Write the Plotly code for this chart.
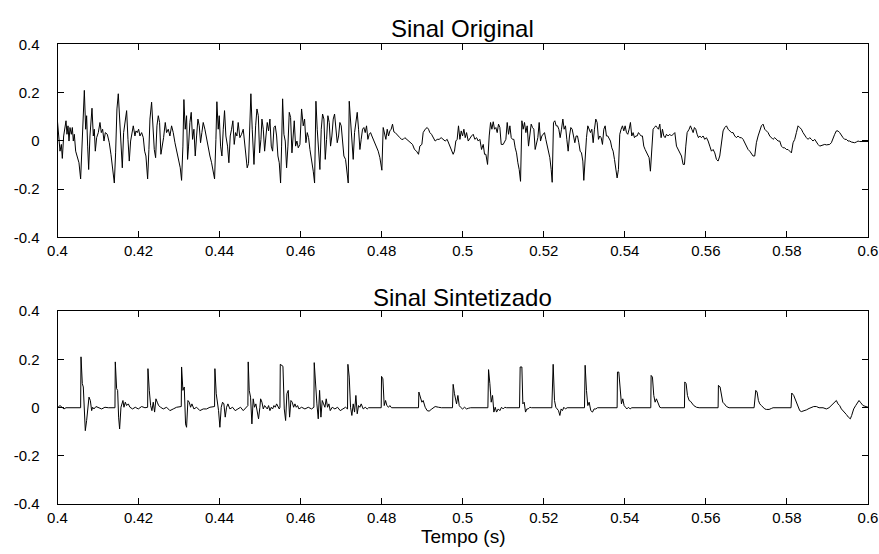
import plotly.graph_objects as go

# ---- data: Sinal Original (time in s, amplitude) ----
t_orig = [0.40000,0.40029,0.40062,0.40095,0.40119,0.40152,0.40185,0.40210,0.40234,0.40259,0.40284,0.40308,0.40341,0.40366,0.40390,0.40415,0.40448,0.40489,0.40530,0.40571,0.40604,0.40629,0.40662,0.40695,0.40719,0.40744,0.40769,0.40801,0.40834,0.40851,0.40884,0.40908,0.40933,0.40966,0.41007,0.41048,0.41081,0.41114,0.41147,0.41180,0.41229,0.41278,0.41319,0.41360,0.41402,0.41434,0.41467,0.41500,0.41533,0.41566,0.41599,0.41632,0.41673,0.41706,0.41739,0.41771,0.41804,0.41837,0.41870,0.41911,0.41936,0.41969,0.42002,0.42034,0.42076,0.42117,0.42150,0.42182,0.42224,0.42256,0.42281,0.42322,0.42355,0.42388,0.42421,0.42454,0.42487,0.42519,0.42552,0.42585,0.42618,0.42659,0.42692,0.42733,0.42774,0.42815,0.42856,0.42898,0.42939,0.42988,0.43029,0.43062,0.43095,0.43119,0.43152,0.43185,0.43210,0.43234,0.43267,0.43300,0.43333,0.43366,0.43399,0.43432,0.43465,0.43498,0.43530,0.43563,0.43596,0.43637,0.43678,0.43720,0.43761,0.43802,0.43843,0.43876,0.43909,0.43933,0.43966,0.43991,0.44024,0.44057,0.44090,0.44122,0.44155,0.44196,0.44229,0.44262,0.44295,0.44328,0.44361,0.44394,0.44427,0.44459,0.44500,0.44542,0.44583,0.44616,0.44648,0.44681,0.44714,0.44747,0.44772,0.44805,0.44848,0.44889,0.44922,0.44955,0.44987,0.45020,0.45045,0.45078,0.45111,0.45144,0.45176,0.45209,0.45242,0.45275,0.45308,0.45341,0.45374,0.45407,0.45439,0.45472,0.45505,0.45530,0.45555,0.45587,0.45620,0.45653,0.45686,0.45719,0.45752,0.45785,0.45818,0.45842,0.45875,0.45908,0.45941,0.45982,0.46023,0.46064,0.46097,0.46130,0.46163,0.46196,0.46229,0.46270,0.46311,0.46344,0.46377,0.46409,0.46442,0.46475,0.46508,0.46541,0.46574,0.46607,0.46640,0.46672,0.46705,0.46738,0.46771,0.46804,0.46837,0.46870,0.46903,0.46936,0.46968,0.47001,0.47034,0.47067,0.47108,0.47141,0.47174,0.47199,0.47231,0.47264,0.47297,0.47330,0.47363,0.47396,0.47429,0.47462,0.47494,0.47527,0.47560,0.47593,0.47626,0.47659,0.47692,0.47725,0.47758,0.47807,0.47856,0.47914,0.47955,0.48004,0.48037,0.48070,0.48103,0.48136,0.48169,0.48201,0.48234,0.48267,0.48300,0.48333,0.48366,0.48407,0.48448,0.48489,0.48530,0.48571,0.48612,0.48662,0.48711,0.48760,0.48810,0.48859,0.48908,0.48941,0.48991,0.49023,0.49073,0.49122,0.49155,0.49188,0.49229,0.49270,0.49319,0.49369,0.49418,0.49467,0.49517,0.49566,0.49615,0.49665,0.49714,0.49763,0.49796,0.49829,0.49862,0.49895,0.49930,0.49962,0.49995,0.50028,0.50061,0.50094,0.50135,0.50176,0.50217,0.50258,0.50299,0.50341,0.50382,0.50423,0.50464,0.50505,0.50538,0.50571,0.50612,0.50653,0.50686,0.50719,0.50752,0.50784,0.50817,0.50850,0.50883,0.50916,0.50949,0.50998,0.51031,0.51064,0.51097,0.51130,0.51163,0.51196,0.51228,0.51261,0.51294,0.51327,0.51360,0.51393,0.51426,0.51459,0.51491,0.51524,0.51557,0.51590,0.51623,0.51656,0.51689,0.51722,0.51754,0.51787,0.51820,0.51853,0.51886,0.51919,0.51952,0.51985,0.52017,0.52050,0.52083,0.52116,0.52149,0.52182,0.52207,0.52239,0.52272,0.52305,0.52338,0.52371,0.52404,0.52437,0.52470,0.52502,0.52535,0.52568,0.52601,0.52634,0.52667,0.52700,0.52733,0.52766,0.52798,0.52831,0.52864,0.52897,0.52930,0.52963,0.52987,0.53020,0.53053,0.53086,0.53119,0.53152,0.53185,0.53218,0.53250,0.53283,0.53316,0.53349,0.53382,0.53415,0.53448,0.53481,0.53514,0.53546,0.53579,0.53612,0.53645,0.53678,0.53711,0.53744,0.53777,0.53809,0.53842,0.53875,0.53908,0.53941,0.53974,0.54007,0.54040,0.54072,0.54105,0.54138,0.54171,0.54204,0.54237,0.54270,0.54303,0.54336,0.54368,0.54401,0.54434,0.54467,0.54500,0.54533,0.54566,0.54599,0.54631,0.54664,0.54697,0.54730,0.54763,0.54796,0.54829,0.54863,0.54895,0.54928,0.54961,0.54994,0.55027,0.55068,0.55109,0.55150,0.55191,0.55233,0.55274,0.55315,0.55356,0.55397,0.55438,0.55471,0.55504,0.55537,0.55586,0.55619,0.55652,0.55685,0.55717,0.55750,0.55783,0.55816,0.55849,0.55890,0.55931,0.55972,0.56013,0.56055,0.56096,0.56137,0.56178,0.56219,0.56260,0.56301,0.56342,0.56383,0.56424,0.56466,0.56507,0.56548,0.56589,0.56630,0.56671,0.56712,0.56753,0.56794,0.56835,0.56877,0.56918,0.56959,0.57000,0.57041,0.57082,0.57123,0.57164,0.57205,0.57246,0.57288,0.57329,0.57370,0.57411,0.57452,0.57493,0.57534,0.57575,0.57616,0.57657,0.57699,0.57740,0.57781,0.57822,0.57863,0.57904,0.57945,0.57986,0.58027,0.58068,0.58110,0.58151,0.58192,0.58233,0.58274,0.58315,0.58356,0.58397,0.58438,0.58479,0.58521,0.58562,0.58603,0.58644,0.58685,0.58726,0.58767,0.58808,0.58849,0.58890,0.58932,0.58973,0.59014,0.59055,0.59096,0.59137,0.59178,0.59219,0.59260,0.59301,0.59343,0.59384,0.59425,0.59466,0.59507,0.59548,0.59589,0.59630,0.59671,0.59712,0.59754,0.59795,0.59877,0.60000]
v_orig = [0.079,0.034,-0.043,-0.015,-0.073,0.020,0.048,0.083,0.027,0.062,-0.001,0.055,0.027,0.055,-0.001,0.027,-0.043,-0.063,-0.091,-0.158,-0.022,0.104,0.209,0.048,0.104,-0.022,-0.119,0.020,0.090,0.135,0.020,0.048,-0.043,0.013,0.034,0.076,0.034,0.048,-0.001,0.034,0.027,-0.008,-0.056,-0.112,-0.175,-0.050,0.132,0.195,0.076,-0.043,-0.112,0.034,0.090,0.125,0.006,-0.084,-0.001,0.034,0.062,0.020,0.041,0.034,0.048,0.020,0.034,0.013,-0.043,-0.063,-0.158,-0.036,0.090,0.160,0.062,-0.036,-0.070,0.062,0.104,0.076,-0.056,-0.022,0.013,0.076,0.034,0.048,0.020,0.062,0.034,-0.008,-0.043,-0.084,-0.112,-0.164,-0.022,0.171,0.048,0.104,-0.077,-0.022,0.076,0.118,0.006,0.048,-0.063,0.020,0.090,0.062,-0.008,0.034,0.076,0.048,0.006,-0.022,-0.063,-0.091,-0.126,-0.158,0.006,0.162,0.048,0.104,-0.022,-0.063,0.048,0.125,0.020,-0.022,-0.091,0.020,0.048,0.083,-0.015,0.034,0.020,0.076,0.013,0.027,0.048,-0.008,-0.063,-0.112,-0.094,0.048,0.195,0.048,-0.098,0.062,0.132,0.104,-0.050,0.006,0.090,0.048,-0.043,0.020,0.076,0.041,0.090,-0.022,-0.043,0.055,0.062,0.020,-0.063,-0.091,-0.175,-0.022,0.174,0.027,-0.001,-0.112,-0.022,0.118,0.097,-0.050,0.027,0.083,-0.022,-0.001,-0.029,-0.015,0.132,0.062,0.090,-0.008,0.034,0.013,-0.036,-0.077,-0.126,-0.175,0.164,0.048,-0.036,-0.119,0.048,0.111,0.090,-0.077,0.006,0.104,0.076,-0.022,0.020,0.090,0.111,0.048,-0.008,0.020,0.076,0.062,-0.022,-0.063,-0.077,-0.126,-0.175,0.164,0.076,-0.022,-0.077,0.034,0.076,0.118,0.048,-0.036,0.006,0.048,0.055,0.034,0.062,0.006,0.027,0.034,0.020,-0.001,-0.022,-0.043,-0.070,-0.122,0.055,0.034,0.006,0.048,0.020,0.041,0.048,0.069,0.037,0.034,0.027,0.020,0.013,0.006,0.006,0.013,0.006,-0.001,-0.008,-0.015,-0.036,-0.043,-0.056,-0.022,-0.015,0.034,0.048,0.055,0.048,0.034,0.027,0.013,-0.001,0.006,0.006,0.013,0.006,-0.001,0.006,-0.015,-0.029,-0.056,-0.043,-0.001,0.006,0.062,0.006,0.041,0.020,0.048,0.013,0.034,-0.001,0.013,0.020,0.027,0.006,0.013,-0.001,0.006,-0.036,-0.015,-0.056,-0.056,-0.098,0.020,0.076,0.048,0.079,0.048,0.055,0.034,0.069,0.055,-0.015,-0.015,-0.001,0.006,0.076,0.027,0.062,0.013,0.006,0.006,-0.029,-0.050,-0.091,-0.119,-0.168,0.083,0.048,0.076,0.034,0.062,-0.022,0.034,0.069,0.055,0.048,-0.036,-0.008,0.013,0.076,-0.001,0.020,0.027,0.034,0.006,-0.022,-0.043,-0.070,-0.119,-0.172,0.076,0.083,0.062,0.062,0.048,0.013,0.048,0.090,0.048,0.062,0.006,-0.043,0.020,0.055,0.048,0.013,-0.008,0.020,0.020,-0.008,-0.043,-0.050,-0.084,-0.164,-0.043,0.013,0.062,0.048,0.034,0.048,-0.008,0.048,0.090,0.076,0.006,0.020,0.013,-0.015,0.048,0.062,0.020,0.020,0.006,-0.001,-0.029,-0.043,-0.077,-0.126,-0.154,-0.119,0.027,0.048,0.062,0.041,0.062,0.034,0.027,0.048,0.076,0.020,0.034,0.013,0.020,0.020,0.034,0.027,0.020,0.020,-0.022,-0.036,-0.050,-0.056,-0.070,-0.126,-0.036,0.048,0.055,0.062,0.055,0.048,0.069,0.013,0.048,0.020,0.013,0.027,0.020,0.027,0.020,0.027,0.034,-0.022,-0.036,-0.050,-0.063,-0.098,-0.098,-0.022,0.034,0.048,0.062,0.048,0.034,0.055,0.048,0.027,0.013,0.020,0.013,0.020,0.006,0.013,-0.001,-0.022,-0.043,-0.036,-0.050,-0.077,-0.084,-0.063,-0.015,0.041,0.055,0.062,0.048,0.041,0.034,0.034,0.020,0.013,0.020,0.013,0.013,0.006,-0.008,-0.022,-0.036,-0.043,-0.056,-0.063,-0.063,-0.008,0.020,0.041,0.062,0.069,0.048,0.041,0.034,0.020,0.013,0.006,0.013,0.006,-0.001,-0.001,-0.022,-0.029,-0.029,-0.036,-0.036,-0.043,-0.050,-0.008,0.006,0.034,0.062,0.055,0.048,0.034,0.020,0.013,0.006,0.013,0.006,-0.001,0.006,-0.008,-0.015,-0.022,-0.019,-0.015,-0.015,-0.017,-0.015,-0.015,-0.008,0.013,0.027,0.041,0.041,0.034,0.020,0.013,0.006,0.006,-0.001,-0.001,-0.005,-0.008,-0.008,-0.005,-0.001,-0.003,-0.003,-0.003]

# ---- data: Sinal Sintetizado (time in s, amplitude) ----
t_sint = [0.40000,0.40062,0.40111,0.40160,0.40210,0.40571,0.40580,0.40612,0.40637,0.40662,0.40686,0.40719,0.40744,0.40777,0.40810,0.40843,0.40867,0.40900,0.40949,0.41007,0.41089,0.41171,0.41254,0.41418,0.41426,0.41459,0.41484,0.41508,0.41533,0.41566,0.41591,0.41615,0.41640,0.41673,0.41706,0.41747,0.41788,0.41853,0.41919,0.41993,0.42076,0.42158,0.42224,0.42232,0.42265,0.42298,0.42330,0.42363,0.42396,0.42429,0.42462,0.42495,0.42544,0.42610,0.42692,0.42774,0.42856,0.42939,0.43054,0.43062,0.43095,0.43128,0.43160,0.43185,0.43218,0.43251,0.43284,0.43317,0.43366,0.43432,0.43514,0.43596,0.43678,0.43761,0.43876,0.43884,0.43917,0.43942,0.43974,0.44007,0.44040,0.44073,0.44106,0.44139,0.44172,0.44205,0.44254,0.44320,0.44385,0.44451,0.44517,0.44583,0.44648,0.44698,0.44706,0.44731,0.44764,0.44797,0.44829,0.44862,0.44895,0.44928,0.44961,0.44994,0.45012,0.45045,0.45078,0.45111,0.45144,0.45176,0.45209,0.45242,0.45275,0.45308,0.45341,0.45374,0.45407,0.45439,0.45472,0.45489,0.45497,0.45563,0.45596,0.45629,0.45661,0.45694,0.45727,0.45760,0.45793,0.45826,0.45859,0.45892,0.45924,0.45957,0.46023,0.46105,0.46188,0.46270,0.46327,0.46335,0.46368,0.46401,0.46434,0.46467,0.46500,0.46533,0.46566,0.46599,0.46631,0.46664,0.46697,0.46730,0.46779,0.46845,0.46911,0.46977,0.47042,0.47108,0.47157,0.47166,0.47199,0.47231,0.47264,0.47297,0.47330,0.47363,0.47396,0.47429,0.47462,0.47494,0.47544,0.47593,0.47642,0.47675,0.47988,0.47996,0.48029,0.48062,0.48095,0.48127,0.48169,0.48201,0.48242,0.48908,0.48917,0.48949,0.48991,0.49023,0.49073,0.49122,0.49171,0.49237,0.49319,0.49402,0.49476,0.49747,0.49763,0.49796,0.49815,0.49847,0.49880,0.49913,0.49946,0.49995,0.50045,0.50094,0.50143,0.50193,0.50620,0.50637,0.50669,0.50702,0.50735,0.50768,0.50801,0.50834,0.50875,0.50916,0.50957,0.50998,0.51039,0.51080,0.51401,0.51417,0.51459,0.51483,0.51516,0.51549,0.51582,0.51615,0.51656,0.51697,0.52198,0.52231,0.52264,0.52297,0.52330,0.52363,0.52396,0.52428,0.52461,0.52494,0.52535,0.52576,0.53004,0.53020,0.53053,0.53086,0.53119,0.53160,0.53201,0.53242,0.53283,0.53324,0.53809,0.53818,0.53851,0.53883,0.53916,0.53949,0.53982,0.54015,0.54048,0.54089,0.54130,0.54171,0.54640,0.54648,0.54681,0.54714,0.54747,0.54779,0.54820,0.54862,0.54895,0.55471,0.55479,0.55512,0.55545,0.55586,0.55619,0.55660,0.55701,0.55767,0.55833,0.56301,0.56309,0.56350,0.56383,0.56416,0.56457,0.56507,0.56572,0.57189,0.57230,0.57263,0.57296,0.57329,0.57370,0.57411,0.57452,0.57493,0.57559,0.57616,0.57657,0.58101,0.58118,0.58167,0.58200,0.58233,0.58274,0.58315,0.58356,0.58414,0.58479,0.58545,0.58603,0.58660,0.58726,0.58792,0.58890,0.58973,0.59038,0.59096,0.59137,0.59186,0.59219,0.59260,0.59301,0.59343,0.59384,0.59425,0.59466,0.59515,0.59564,0.59597,0.59647,0.59696,0.59745,0.59778,0.59811,0.59844,0.59877,0.60000]
v_sint = [-0.001,0.008,0.001,-0.006,-0.001,-0.001,0.210,0.099,0.085,-0.040,-0.096,-0.054,0.001,0.043,0.029,-0.013,0.001,-0.006,0.004,0.001,-0.006,0.001,-0.001,-0.001,0.189,0.078,0.071,-0.040,-0.089,0.001,0.015,0.029,0.001,0.022,0.008,0.015,0.001,-0.006,0.001,-0.006,0.004,-0.001,0.001,0.161,0.071,0.008,-0.013,0.022,-0.019,0.036,0.022,0.008,0.001,-0.006,0.001,-0.013,-0.006,0.001,0.004,0.168,0.071,0.085,-0.068,-0.082,0.029,0.022,0.001,0.015,-0.006,0.001,-0.013,-0.006,-0.006,0.001,0.004,0.161,0.057,0.029,-0.013,-0.082,0.001,0.022,0.015,-0.040,0.001,0.015,-0.006,0.001,-0.013,-0.006,0.001,-0.013,0.001,0.008,0.189,0.071,0.043,-0.068,0.036,0.001,0.015,-0.019,-0.047,0.001,0.036,0.022,-0.006,0.008,0.001,-0.006,0.008,-0.013,0.001,-0.006,0.008,0.001,0.015,0.001,-0.006,0.001,0.179,0.171,-0.006,-0.054,0.057,0.071,-0.040,0.029,0.022,0.001,0.015,0.001,0.008,-0.006,0.001,-0.006,0.001,-0.006,0.001,0.186,0.078,0.015,-0.047,0.071,-0.040,0.029,0.015,0.001,0.036,0.001,0.015,-0.013,0.001,-0.006,0.001,-0.013,-0.006,0.001,-0.006,0.179,0.126,0.001,-0.033,0.015,-0.019,0.050,-0.026,0.008,0.001,0.015,-0.006,0.001,-0.006,-0.001,-0.001,0.129,0.119,0.008,0.029,0.008,0.001,0.008,-0.001,-0.001,0.064,0.043,0.022,0.029,0.001,-0.013,-0.015,-0.006,0.004,0.001,-0.001,-0.001,0.096,0.057,0.036,0.015,0.050,0.008,0.001,-0.006,0.001,-0.006,-0.003,-0.001,-0.001,0.157,0.099,0.022,0.050,-0.019,0.001,-0.019,-0.006,-0.013,0.001,-0.006,0.001,-0.001,-0.001,0.168,0.168,0.015,0.022,-0.019,-0.006,-0.006,0.001,-0.001,-0.001,0.179,0.029,0.001,-0.006,-0.013,-0.033,-0.006,-0.013,0.001,-0.006,-0.001,-0.001,0.175,0.071,0.008,0.022,-0.013,-0.019,-0.006,-0.006,-0.001,-0.001,0.147,0.147,0.064,0.015,0.036,0.008,0.001,-0.006,0.001,-0.006,-0.001,-0.001,0.133,0.126,0.050,0.022,0.036,0.015,0.001,-0.001,-0.001,0.106,0.099,0.050,0.029,0.026,0.015,0.008,0.001,-0.001,-0.001,0.092,0.085,0.057,0.022,0.015,0.004,-0.001,-0.001,0.071,0.064,0.029,0.015,0.008,0.001,-0.006,-0.008,-0.008,-0.004,-0.001,-0.001,0.060,0.050,0.036,0.015,0.001,-0.013,-0.017,-0.015,-0.010,-0.004,0.001,0.004,0.004,-0.001,-0.001,-0.006,-0.001,0.008,0.015,0.025,0.029,0.015,0.008,-0.006,-0.013,-0.019,-0.029,-0.040,-0.047,-0.033,-0.006,0.008,0.022,0.029,0.022,0.015,0.008,0.001]

# ---- ticks / labels ----
x_tickvals = [0.4, 0.42, 0.44, 0.46, 0.48, 0.5, 0.52, 0.54, 0.56, 0.58, 0.6]
x_ticktext = ["0.4", "0.42", "0.44", "0.46", "0.48", "0.5", "0.52", "0.54", "0.56", "0.58", "0.6"]
y_tickvals = [-0.4, -0.2, 0, 0.2, 0.4]
y_ticktext = ["-0.4", "-0.2", "0", "0.2", "0.4"]
titles = ["Sinal Original", "Sinal Sintetizado"]
x_label = "Tempo (s)"

FONT = "Liberation Sans, Arial, sans-serif"

fig = go.Figure()
fig.add_trace(go.Scatter(x=t_orig, y=v_orig, mode="lines", line=dict(color="black", width=1),
                         xaxis="x", yaxis="y", showlegend=False, hoverinfo="skip"))
fig.add_trace(go.Scatter(x=t_sint, y=v_sint, mode="lines", line=dict(color="black", width=1),
                         xaxis="x2", yaxis="y2", showlegend=False, hoverinfo="skip"))

W, H = 879, 554
xdom = [57.5 / W, 868 / W]
ydom1 = [1 - 237.3 / H, 1 - 44.3 / H]
ydom2 = [1 - 504 / H, 1 - 311 / H]

def xax(anchor):
    return dict(domain=xdom, anchor=anchor, range=[0.4, 0.6], tickvals=x_tickvals, ticktext=x_ticktext,
                showline=True, mirror="ticks", linecolor="black", linewidth=1, ticks="inside",
                ticklen=6, tickcolor="black", showgrid=False, zeroline=False, automargin=False,
                tickfont=dict(family=FONT, size=15, color="black"))

def yax(anchor, dom):
    return dict(domain=dom, anchor=anchor, range=[-0.4, 0.4], tickvals=y_tickvals, ticktext=y_ticktext,
                showline=True, mirror="ticks", linecolor="black", linewidth=1, ticks="inside",
                ticklen=6, tickcolor="black", showgrid=False, zeroline=False, automargin=False,
                ticklabelstandoff=14,
                tickfont=dict(family=FONT, size=15, color="black"))

fig.update_layout(
    width=W, height=H, paper_bgcolor="white", plot_bgcolor="white",
    margin=dict(l=0, r=0, t=0, b=0, autoexpand=False), showlegend=False,
    xaxis=xax("y"), yaxis=yax("x", ydom1),
    xaxis2=xax("y2"), yaxis2=yax("x2", ydom2),
    annotations=[
        dict(text=titles[0], x=0.5 * (xdom[0] + xdom[1]), y=1 - 28 / H, xref="paper", yref="paper",
             showarrow=False, font=dict(family=FONT, size=24, color="black"), xanchor="center", yanchor="middle"),
        dict(text=titles[1], x=0.5 * (xdom[0] + xdom[1]), y=1 - 297 / H, xref="paper", yref="paper",
             showarrow=False, font=dict(family=FONT, size=24, color="black"), xanchor="center", yanchor="middle"),
        dict(text=x_label, x=0.5 * (xdom[0] + xdom[1]), y=1 - 536 / H, xref="paper", yref="paper",
             showarrow=False, font=dict(family=FONT, size=19, color="black"), xanchor="center", yanchor="middle"),
    ],
)

fig.write_html("out.html", config={"displayModeBar": False},
               post_script="document.body.style.margin='0';document.body.style.overflow='hidden';")
